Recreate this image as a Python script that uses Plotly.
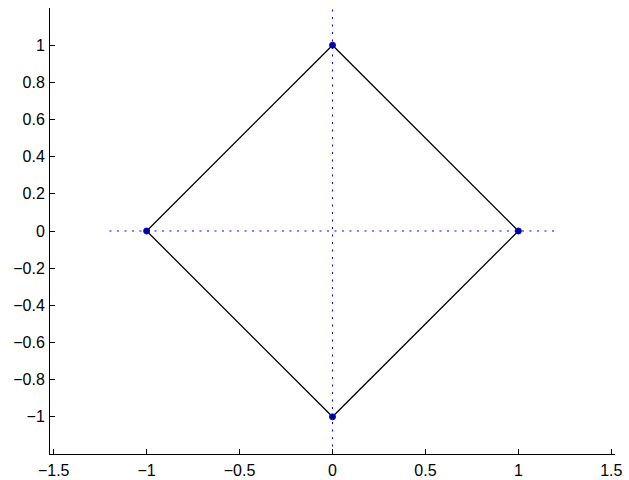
import plotly.graph_objects as go

# Unit diamond |x| + |y| = 1, closed path through its four vertices
vertex_x = [0, 1, 0, -1, 0]
vertex_y = [1, 0, -1, 0, 1]

# Dotted reference axes through the origin
axis_h_x = [-1.2, 1.2]
axis_h_y = [0, 0]
axis_v_x = [0, 0]
axis_v_y = [-1.2, 1.2]

x_ticks = [-1.5, -1, -0.5, 0, 0.5, 1, 1.5]
y_ticks = [-1, -0.8, -0.6, -0.4, -0.2, 0, 0.2, 0.4, 0.6, 0.8, 1]


def tick_text(values):
    return [("−" if v < 0 else "") + f"{abs(v):g}" for v in values]


dot_style = dict(color="#0000ff", width=1, dash="2px,5.5px")

fig = go.Figure()
fig.add_trace(go.Scatter(x=axis_h_x, y=axis_h_y, mode="lines", line=dot_style,
                         hoverinfo="skip"))
fig.add_trace(go.Scatter(x=axis_v_x, y=axis_v_y, mode="lines", line=dot_style,
                         hoverinfo="skip"))
fig.add_trace(go.Scatter(x=vertex_x, y=vertex_y, mode="lines",
                         line=dict(color="black", width=1.3)))
fig.add_trace(go.Scatter(x=vertex_x[:-1], y=vertex_y[:-1], mode="markers",
                         marker=dict(size=6, color="#00007f",
                                     line=dict(color="#0000ff", width=1))))

axis_common = dict(
    showgrid=False, zeroline=False, showline=True, linecolor="black",
    linewidth=1, ticks="inside", ticklen=5, tickcolor="black", tickwidth=1,
    mirror=False, automargin=False,
    tickfont=dict(family="Liberation Sans, Arial", size=16, color="black"),
)

fig.update_layout(
    width=629, height=480,
    margin=dict(l=50, r=14, t=8, b=26),
    paper_bgcolor="white", plot_bgcolor="white",
    showlegend=False,
    xaxis=dict(range=[-1.52, 1.52], tickvals=x_ticks,
               ticktext=tick_text(x_ticks), ticklabelstandoff=2,
               **axis_common),
    yaxis=dict(range=[-1.2, 1.2], tickvals=y_ticks,
               ticktext=tick_text(y_ticks), ticklabelstandoff=1,
               **axis_common),
)

fig.write_html("out.html")
